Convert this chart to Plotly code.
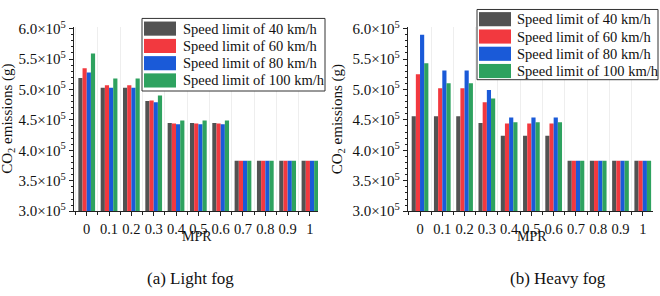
import plotly.graph_objects as go

W, H = 660, 296
FONT = "'Liberation Serif', 'Times New Roman', Times, serif"

mpr = ["0", "0.1", "0.2", "0.3", "0.4", "0.5", "0.6", "0.7", "0.8", "0.9", "1"]
series_names = ["Speed limit of 40 km/h", "Speed limit of 60 km/h",
                "Speed limit of 80 km/h", "Speed limit of 100 km/h"]
colors = ["#525252", "#f2393f", "#1a5ad8", "#2ea25f"]

light_40 = [519000, 503000, 503000, 481000, 445000, 445000, 445000, 383000, 383000, 383000, 383000]
light_60 = [535000, 507000, 507000, 482000, 444000, 444000, 444000, 383000, 383000, 383000, 383000]
light_80 = [528000, 503000, 503000, 479000, 443000, 443000, 443000, 383000, 383000, 383000, 383000]
light_100 = [559000, 518000, 518000, 490000, 449000, 449000, 449000, 383000, 383000, 383000, 383000]

heavy_40 = [456000, 456000, 456000, 445000, 424000, 424000, 424000, 383000, 383000, 383000, 383000]
heavy_60 = [525000, 502000, 502000, 479000, 444000, 444000, 444000, 383000, 383000, 383000, 383000]
heavy_80 = [590000, 531000, 531000, 499000, 454000, 454000, 454000, 383000, 383000, 383000, 383000]
heavy_100 = [543000, 510000, 510000, 485000, 446000, 446000, 446000, 383000, 383000, 383000, 383000]

y_tickvals = [300000, 350000, 400000, 450000, 500000, 550000, 600000]
y_ticktext = ["3.0×10<sup>5</sup>", "3.5×10<sup>5</sup>", "4.0×10<sup>5</sup>", "4.5×10<sup>5</sup>",
              "5.0×10<sup>5</sup>", "5.5×10<sup>5</sup>", "6.0×10<sup>5</sup>"]

panels = [
    ("x", "y", [light_40, light_60, light_80, light_100]),
    ("x2", "y2", [heavy_40, heavy_60, heavy_80, heavy_100]),
]

xpos = list(range(len(mpr)))
fig = go.Figure()
for xa, ya, data in panels:
    for name, col, vals in zip(series_names, colors, data):
        fig.add_trace(go.Bar(x=xpos, y=vals, name=name, marker=dict(color=col, line=dict(width=0)),
                             xaxis=xa, yaxis=ya, showlegend=False))

def px_x(p):
    return p / W

def px_y(p):
    return 1 - p / H

axis_common = dict(showline=True, linecolor="#222222", linewidth=1.3, zeroline=False,
                   ticks="outside", tickcolor="#222222", ticklen=4, tickwidth=1)

xcommon = dict(axis_common, tickmode="array", tickvals=xpos, ticktext=mpr, showgrid=False,
               tickfont=dict(family=FONT, size=14.5, color="#111111"),
               minor=dict(tick0=0.5, dtick=1, showgrid=True, gridcolor="#eeeeee", gridwidth=1,
                          ticks="outside", ticklen=3, tickcolor="#222222"))
ycommon = dict(axis_common, tickmode="array", tickvals=y_tickvals, ticktext=y_ticktext,
               range=[300000, 602000], showgrid=False,
               tickfont=dict(family=FONT, size=15, color="#111111"),
               minor=dict(tickmode="linear", tick0=300000, dtick=10000, ticks="outside",
                          ticklen=2, tickcolor="#222222"))

ybot, ytop = px_y(214.5), px_y(19.5)
fig.update_layout(
    width=W, height=H, margin=dict(l=0, r=0, t=0, b=0),
    paper_bgcolor="white", plot_bgcolor="white",
    barmode="group", bargap=0.25, bargroupgap=0,
    font=dict(family=FONT, color="#111111"),
    xaxis=dict(xcommon, domain=[px_x(74), px_x(318)], range=[-0.57, 10.36], anchor="y"),
    yaxis=dict(ycommon, domain=[ybot, ytop], anchor="x"),
    xaxis2=dict(xcommon, domain=[px_x(408), px_x(653)], range=[-0.54, 10.46], anchor="y2"),
    yaxis2=dict(ycommon, domain=[ybot, ytop], anchor="x2"),
)

annotations = []
shapes = []

# axis titles and captions
for xc, mx, cap, cx in [(8.5, 197, "(a) Light fog", 190), (338, 532, "(b) Heavy fog", 558)]:
    annotations.append(dict(x=px_x(xc), y=px_y(117), xref="paper", yref="paper",
                            text="CO<sub>2</sub> emissions (g)", textangle=-90, showarrow=False,
                            font=dict(family=FONT, size=15), xanchor="center", yanchor="middle"))
    annotations.append(dict(x=px_x(mx), y=px_y(241), xref="paper", yref="paper", text="MPR",
                            showarrow=False, font=dict(family=FONT, size=14),
                            xanchor="center", yanchor="middle"))
    annotations.append(dict(x=px_x(cx), y=px_y(286), xref="paper", yref="paper", text=cap,
                            showarrow=False, font=dict(family=FONT, size=17),
                            xanchor="center", yanchor="middle"))

# custom legends with large swatches
legend_boxes = [
    dict(x0=142, x1=325, y0=10, y1=87, sx=144, tx=181, rows=[13.3, 31.7, 50, 68.3]),
    dict(x0=477, x1=658, y0=0.5, y1=75, sx=479, tx=515, rows=[3.3, 21.7, 40, 58.3]),
]
for lb in legend_boxes:
    shapes.append(dict(type="rect", xref="paper", yref="paper",
                       x0=px_x(lb["x0"]), x1=px_x(lb["x1"]), y0=px_y(lb["y1"]), y1=px_y(lb["y0"]),
                       line=dict(color="#333333", width=1), fillcolor="white", layer="above"))
    for name, col, r in zip(series_names, colors, lb["rows"]):
        shapes.append(dict(type="rect", xref="paper", yref="paper",
                           x0=px_x(lb["sx"]), x1=px_x(lb["sx"] + 32), y0=px_y(r + 15), y1=px_y(r),
                           line=dict(width=0), fillcolor=col, layer="above"))
        annotations.append(dict(x=px_x(lb["tx"]), y=px_y(r + 7.5), xref="paper", yref="paper",
                                text=name, showarrow=False, font=dict(family=FONT, size=14.5),
                                xanchor="left", yanchor="middle"))

fig.update_layout(annotations=annotations, shapes=shapes)
fig.write_html("out.html")
